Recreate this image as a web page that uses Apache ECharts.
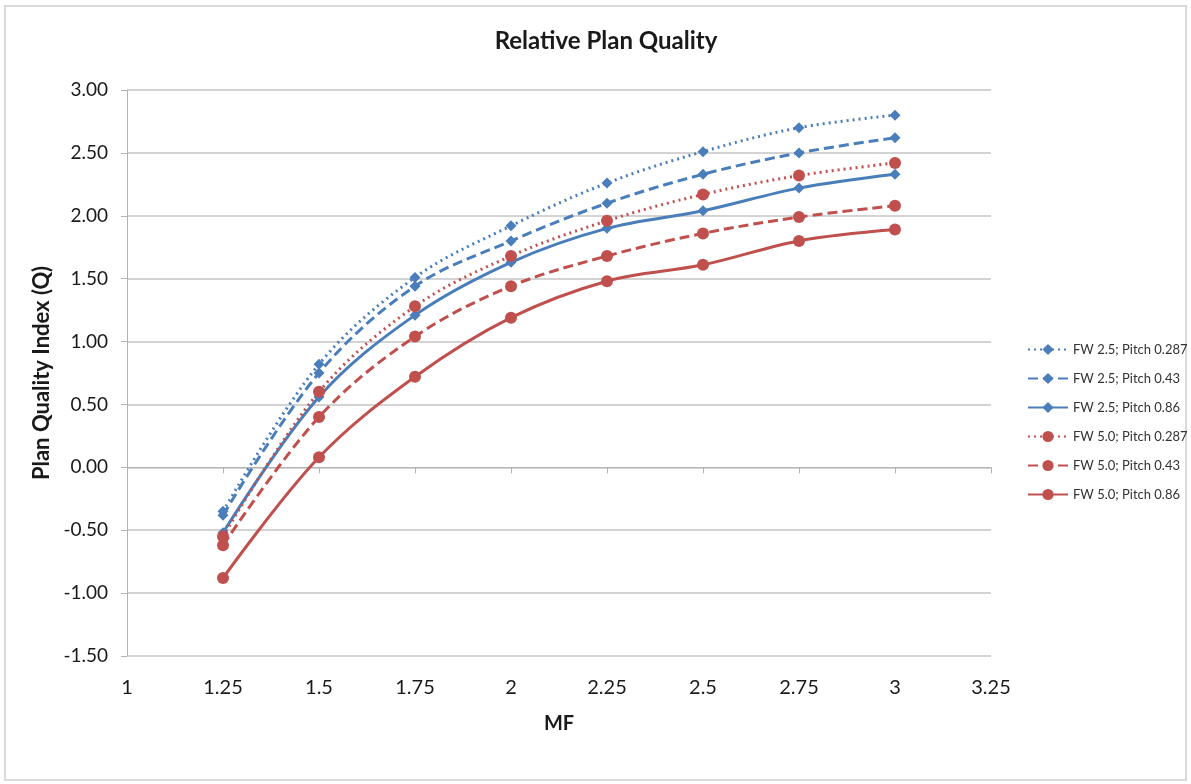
<!DOCTYPE html>
<html><head><meta charset="utf-8">
<script src="https://cdn.jsdelivr.net/npm/echarts@6/dist/echarts.min.js"></script>
<style>
html,body{margin:0;padding:0;background:#fff;}
#frame{position:absolute;left:4px;top:5px;width:1183px;height:776px;border:2px solid #d9d9d9;box-sizing:border-box;}
#c{position:absolute;left:0;top:0;width:1191px;height:784px;}
</style></head>
<body><div id="frame"></div><div id="c"></div>
<script>
const mf = [1.25, 1.5, 1.75, 2, 2.25, 2.5, 2.75, 3];
const seriesNames = ['FW 2.5; Pitch 0.287','FW 2.5; Pitch 0.43','FW 2.5; Pitch 0.86','FW 5.0; Pitch 0.287','FW 5.0; Pitch 0.43','FW 5.0; Pitch 0.86'];
const fw25p0287 = [-0.35, 0.82, 1.51, 1.92, 2.26, 2.51, 2.70, 2.80];
const fw25p043  = [-0.38, 0.75, 1.44, 1.80, 2.10, 2.33, 2.50, 2.62];
const fw25p086  = [-0.52, 0.56, 1.21, 1.63, 1.90, 2.04, 2.22, 2.33];
const fw50p0287 = [-0.55, 0.60, 1.28, 1.68, 1.96, 2.17, 2.32, 2.42];
const fw50p043  = [-0.62, 0.40, 1.04, 1.44, 1.68, 1.86, 1.99, 2.08];
const fw50p086  = [-0.88, 0.08, 0.72, 1.19, 1.48, 1.61, 1.80, 1.89];
const allValues = [fw25p0287, fw25p043, fw25p086, fw50p0287, fw50p043, fw50p086];

const BLUE = '#4a7ebb', RED = '#c0504d';
const styles = [
  {color: BLUE, type: [2, 4], symbol: 'diamond', size: 11},
  {color: BLUE, type: [10, 5], symbol: 'diamond', size: 11},
  {color: BLUE, type: 'solid', symbol: 'diamond', size: 11},
  {color: RED, type: [2, 4], symbol: 'circle', size: 12},
  {color: RED, type: [10, 5], symbol: 'circle', size: 12},
  {color: RED, type: 'solid', symbol: 'circle', size: 12}
];
const FONT = 'Lato, "Open Sans", sans-serif';
const chart = echarts.init(document.getElementById('c'));
chart.setOption({
  animation: false,
  title: {text: 'Relative Plan Quality', left: 601, top: 24, textAlign: 'center',
    textStyle: {fontFamily: FONT, fontSize: 24, fontWeight: 'bold', color: '#1a1a1a'}},
  grid: {left: 127, right: 200, top: 90, bottom: 128},
  legend: {orient: 'vertical', left: 1022, top: 338, itemGap: 16, itemWidth: 40, itemHeight: 14,
    textStyle: {fontFamily: FONT, fontSize: 13, color: '#333'},
    data: seriesNames},
  xAxis: {type: 'value', min: 1, max: 3.25, interval: 0.25,
    name: 'MF', nameLocation: 'middle', nameGap: 58,
    nameTextStyle: {fontFamily: FONT, fontSize: 20, fontWeight: 'bold', color: '#1a1a1a'},
    axisLine: {lineStyle: {color: '#b3b3b3', width: 1}},
    axisTick: {show: true, length: 6, lineStyle: {color: '#b3b3b3'}},
    axisLabel: {fontFamily: FONT, fontSize: 20, color: '#1a1a1a', margin: 22},
    splitLine: {show: false}},
  yAxis: {type: 'value', min: -1.5, max: 3, interval: 0.5,
    name: 'Plan Quality Index (Q)', nameLocation: 'middle', nameGap: 66, nameRotate: 90,
    nameTextStyle: {fontFamily: FONT, fontSize: 22, fontWeight: 'bold', color: '#1a1a1a'},
    axisLine: {show: true, lineStyle: {color: '#b3b3b3', width: 1}},
    axisTick: {show: true, length: 6, lineStyle: {color: '#b3b3b3'}},
    axisLabel: {fontFamily: FONT, fontSize: 19, color: '#1a1a1a', margin: 19,
      formatter: v => v.toFixed(2)},
    splitLine: {lineStyle: {color: '#c4c4c4', width: 1.5}}},
  series: allValues.map((vals, i) => ({
    name: seriesNames[i], type: 'line', smooth: 0.35,
    data: mf.map((x, j) => [x, vals[j]]),
    symbol: styles[i].symbol, symbolSize: styles[i].size,
    lineStyle: {color: styles[i].color, width: 3, type: styles[i].type},
    itemStyle: {color: styles[i].color}
  }))
});
</script></body></html>
